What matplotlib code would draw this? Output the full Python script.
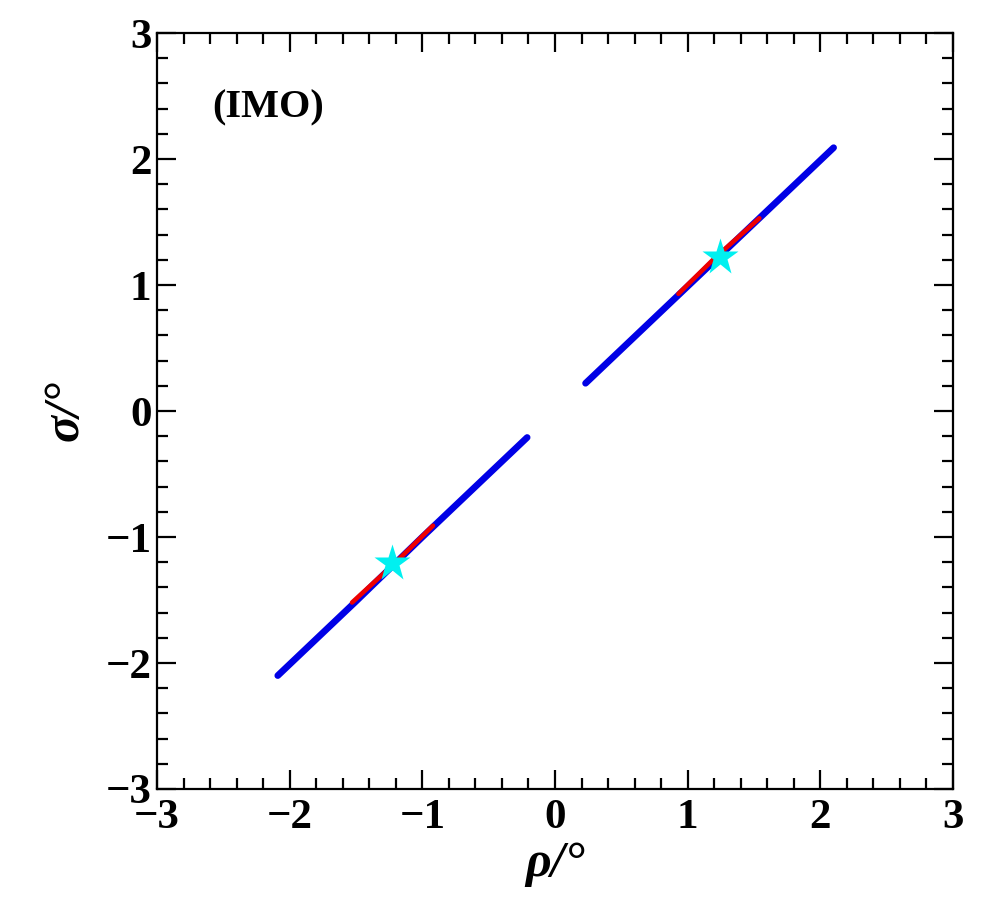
import matplotlib
matplotlib.use("Agg")
import matplotlib.pyplot as plt

# blue allowed region, two branches (rho, sigma in degrees)
blue_lo_rho = [-2.09, -1.50, -1.00, -0.50, -0.21]
blue_lo_sig = [-2.10, -1.51, -1.00, -0.50, -0.21]
blue_hi_rho = [0.23, 0.60, 1.00, 1.50, 2.10]
blue_hi_sig = [0.22, 0.59, 0.99, 1.49, 2.09]

# red best-fit region
red_lo_rho = [-1.53, -1.20, -0.92]
red_lo_sig = [-1.52, -1.20, -0.91]
red_hi_rho = [0.93, 1.20, 1.54]
red_hi_sig = [0.93, 1.21, 1.53]

# best-fit points
star_rho = [-1.23, 1.24]
star_sig = [-1.21, 1.22]

ticks = [-3, -2, -1, 0, 1, 2, 3]

plt.rcParams['font.family'] = ['Liberation Serif', 'DejaVu Serif']
plt.rcParams['font.weight'] = 'bold'

fig = plt.figure(figsize=(9.97, 9.07), dpi=100)
ax = fig.add_axes([0.1575, 0.1301, 0.7984, 0.8335])

ax.plot(blue_lo_rho, blue_lo_sig, color='#0000e6', lw=4.8, solid_capstyle='round', zorder=2)
ax.plot(blue_hi_rho, blue_hi_sig, color='#0000e6', lw=4.8, solid_capstyle='round', zorder=2)
ax.plot(red_lo_rho, red_lo_sig, color='#ee0000', lw=3.3, solid_capstyle='round', zorder=3)
ax.plot(red_hi_rho, red_hi_sig, color='#ee0000', lw=3.3, solid_capstyle='round', zorder=3)
ax.plot(star_rho, star_sig, ls='none', marker='*', ms=28, color='#00f0f0', mec='none', zorder=4)

ax.set_xlim(-3, 3)
ax.set_ylim(-3, 3)
ax.set_xticks(ticks)
ax.set_yticks(ticks)
ax.set_xticks([t / 5 for t in range(-15, 16)], minor=True)
ax.set_yticks([t / 5 for t in range(-15, 16)], minor=True)
ax.tick_params(which='both', direction='in', top=True, right=True, width=1.6, colors='black')
ax.tick_params(which='major', length=14, labelsize=31)
ax.tick_params(axis='x', which='major', pad=7)
ax.tick_params(axis='y', which='major', pad=4)
ax.tick_params(which='minor', length=8)
for s in ax.spines.values():
    s.set_linewidth(1.6)

ax.set_xlabel('ρ/°', fontsize=36, fontstyle='italic', fontweight='bold', labelpad=3)
ax.set_ylabel('σ/°', fontsize=36, fontstyle='italic', fontweight='bold', labelpad=12)

ax.text(0.070, 0.9015, '(IMO)', transform=ax.transAxes, fontsize=29,
        fontweight='bold', ha='left', va='center')

fig.savefig('out.png', dpi=100)
